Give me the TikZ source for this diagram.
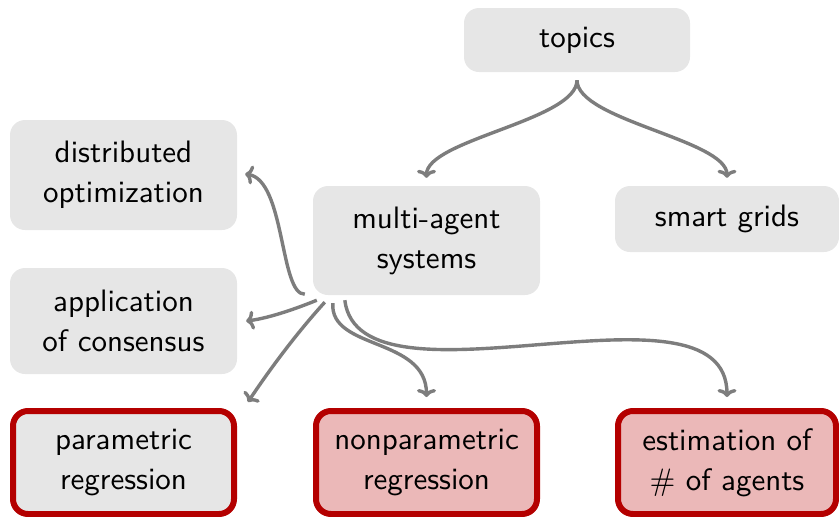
\documentclass[tikz,border=0pt]{standalone}
\usepackage{fontspec}
\setmainfont{lmsans10-regular.otf}
\usetikzlibrary{arrows.meta,calc}
\definecolor{boxgray}{RGB}{230,230,230}
\definecolor{bordred}{RGB}{180,0,0}
\definecolor{fillred}{RGB}{235,184,184}
\definecolor{linkgray}{RGB}{125,125,125}
\tikzset{
  graybox/.style={fill=boxgray, rounded corners=15pt, align=center, inner sep=0pt,
    font=\fontsize{31}{40}\selectfont},
  redbox/.style={graybox, draw=bordred, line width=6pt},
  link/.style={draw=linkgray, line width=3.4pt, -{To[length=8pt,width=19pt]}}
}
\begin{document}
\begin{tikzpicture}[x=1pt,y=1pt]
\useasboundingbox (0,0) rectangle (839,-517);
\node[graybox, minimum width=226, minimum height=64] (t) at (577,-40) {topics};
\node[graybox, minimum width=227, minimum height=110] (d) at (123.5,-175) {distributed\\optimization};
\node[graybox, minimum width=227, minimum height=109] (m) at (426.5,-240.5) {multi-agent\\systems};
\node[graybox, minimum width=224, minimum height=66] (s) at (727,-219) {smart grids};
\node[graybox, minimum width=227, minimum height=106] (a) at (123.5,-321) {application\\of consensus};
\node[redbox, minimum width=221, minimum height=103] (p) at (123.5,-462.5) {parametric\\regression};
\node[redbox, fill=fillred, minimum width=221, minimum height=103] (n) at (426.5,-462.5) {nonparametric\\regression};
\node[redbox, fill=fillred, minimum width=218, minimum height=103] (e) at (727,-462.5) {estimation of\\\# of agents};

\draw[link] ($(t.south)+(0,-8)$) .. controls +(0,-40) and +(0,38) .. ($(m.north)+(0,8)$);
\draw[link] ($(t.south)+(0,-8)$) .. controls +(0,-40) and +(0,38) .. ($(s.north)+(0,8)$);
\draw[link] ($(m.south west)+(-8,1)$) .. controls +(-25,-1) and +(40,-6) .. ($(d.east)+(8,1)$);
\draw[link] ($(m.south west)+(4,-5)$) .. controls +(-17,-7) and +(24,3) .. ($(a.east)+(9,0)$);
\draw[link] ($(m.south west)+(12,-7)$) .. controls +(-30,-33) and +(20,30) .. ($(p.north east)+(11,6)$);
\draw[link] ($(m.south west)+(20,-8)$) .. controls +(-3,-47) and +(0,60) .. ($(n.north)+(0,11)$);
\draw[link] ($(m.south west)+(32,-5)$) .. controls +(15,-120) and +(0,130) .. ($(e.north)+(0,11)$);
\end{tikzpicture}
\end{document}
